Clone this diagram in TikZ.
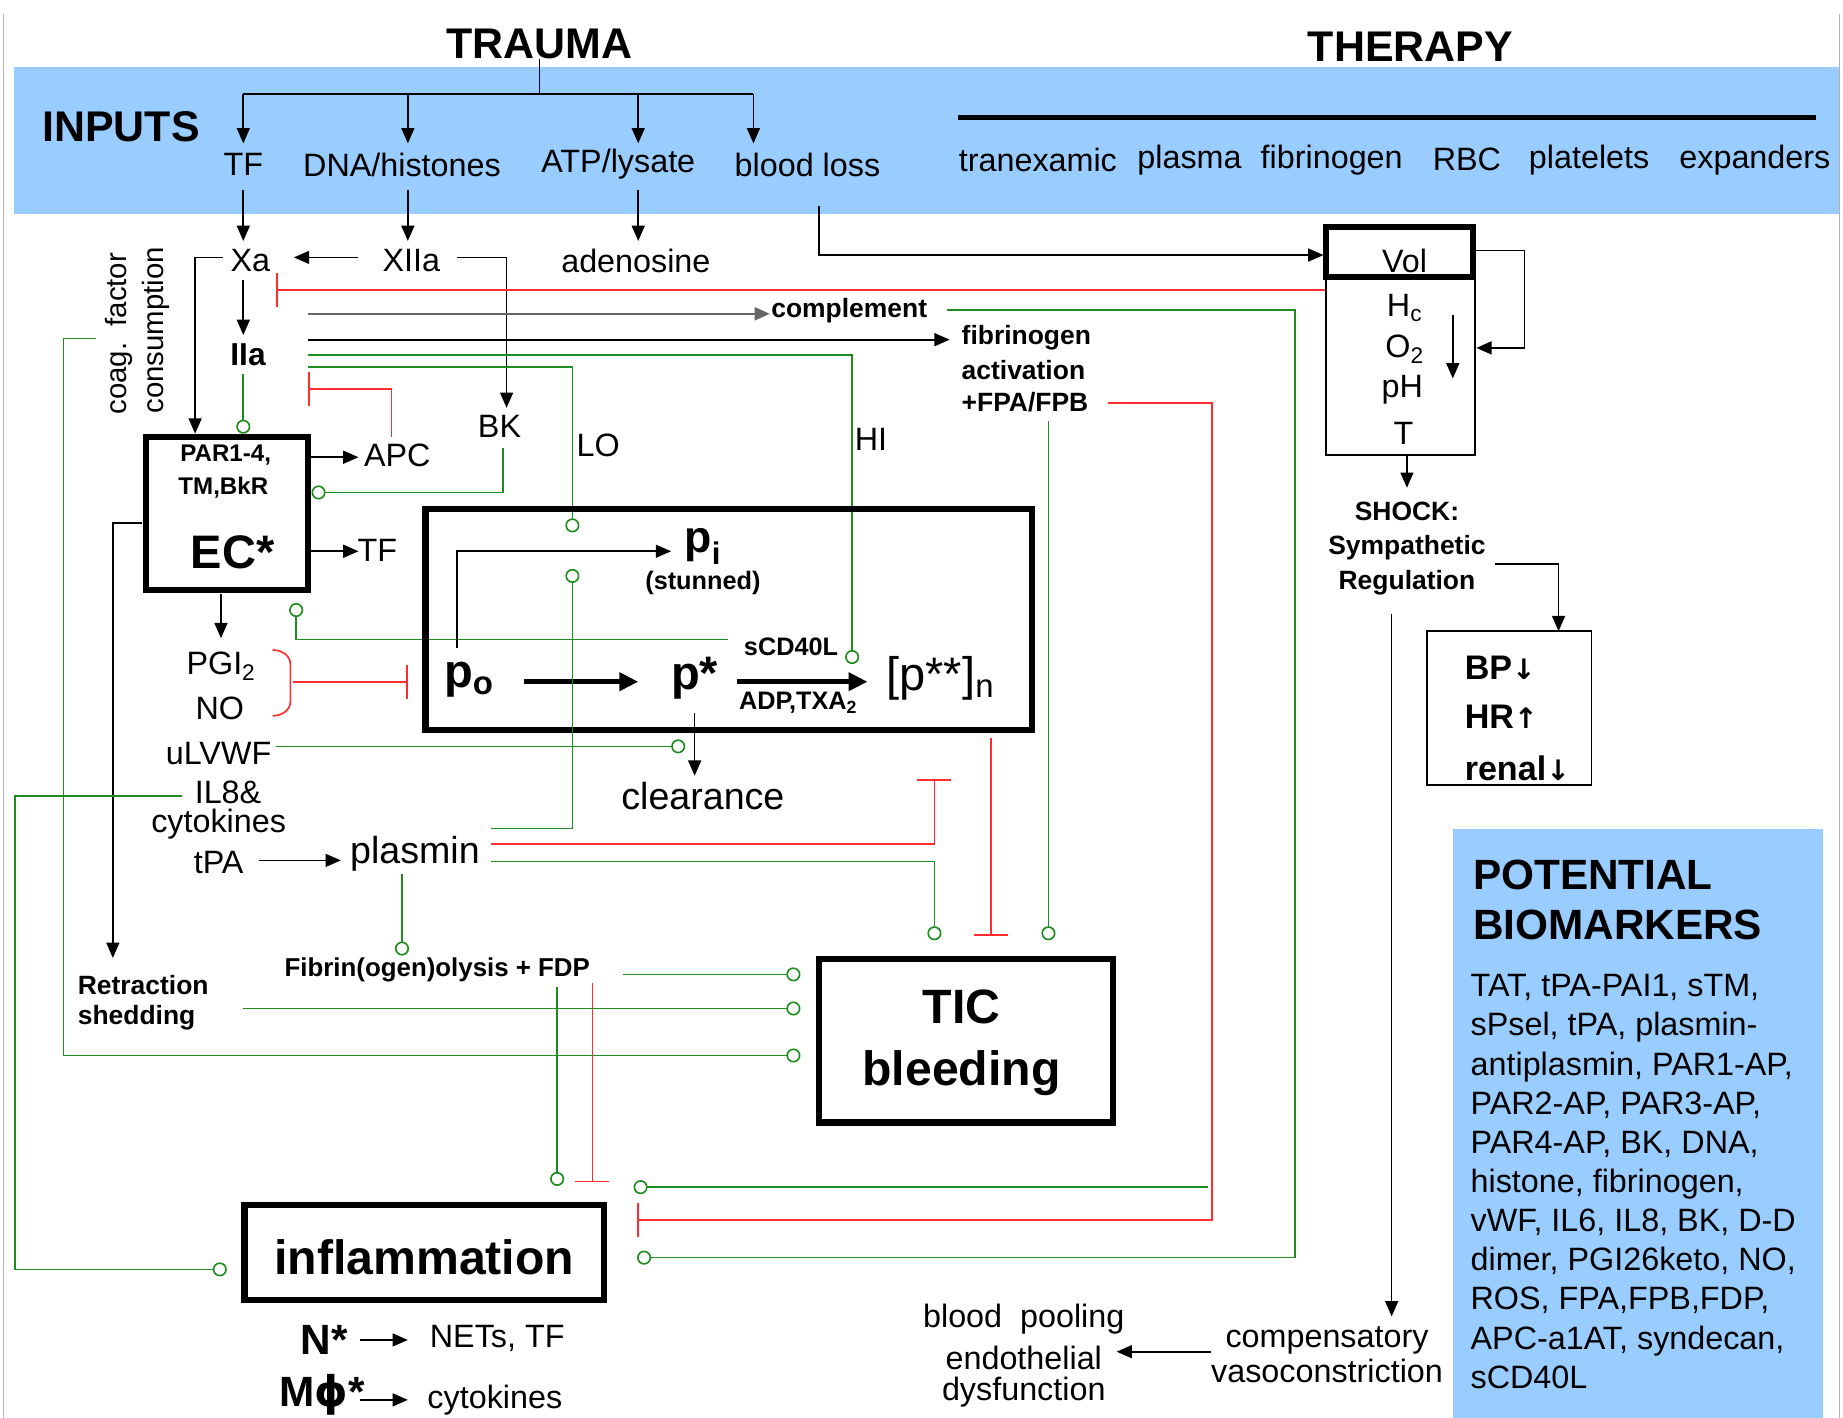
\documentclass[tikz,border=0pt]{standalone}
\usepackage{fontspec}
\setmainfont{Liberation Sans}
\newfontfamily\djv{DejaVu Sans}
\usetikzlibrary{arrows.meta}
\definecolor{bandblue}{RGB}{153,204,255}
\definecolor{gcol}{RGB}{30,140,30}
\definecolor{rcol}{RGB}{255,45,45}
\newcommand\fsz[1]{\fontsize{#1}{#1}\selectfont}
\begin{document}
\begin{tikzpicture}[x=1pt,y=-1pt,
 lbl/.style={inner sep=0pt, font=\fsz{27.5}},
 blbl/.style={inner sep=0pt, font=\fsz{22.5}\bfseries},
 big/.style={inner sep=0pt, font=\fsz{36.5}\bfseries},
 ar/.style={draw=black, line width=1.4pt, -{Triangle[length=13pt,width=11pt]}},
 ln/.style={draw=black, line width=1.4pt},
 gl/.style={draw=gcol, line width=1.4pt},
 gc/.style={draw=gcol, line width=1.4pt, -{Circle[open,length=12pt,width=12pt]}},
 rl/.style={draw=rcol, line width=1.4pt},
 rt/.style={draw=rcol, line width=1.4pt, -{Bar[width=29pt]}},
 tb/.style={draw=black, line width=5.5pt},
 thinbox/.style={draw=black, line width=1.3pt}]
\useasboundingbox (0,0) rectangle (1568,1206);
\fill[white] (0,0) rectangle (1568,1206);
\fill[bandblue] (12,57) rectangle (1565,182);
\fill[bandblue] (1236,705) rectangle (1551,1206);
\draw[black!30, line width=1.2pt] (3,12) -- (3,1206);
\draw[black!30, line width=1.2pt] (1565,12) -- (1565,1206);

% titles
\node[big] (trauma) at (459,37) {TRAUMA};
\node[big] (therapy) at (1200,40) {THERAPY};
\node[big] (inputs) at (103,108) {INPUTS};

% trauma tree
\coordinate (tj) at (459,80);
\draw[ln] (trauma.south) -- (tj);
\draw[ln] (207,80) -- (641,80);
\foreach \x in {207,347,543,641} \draw[ar] (\x,80) -- (\x,122);
\node[lbl] (inTF) at (207,140) {TF};
\node[lbl] (inDNA) at (342,140) {DNA/histones};
\node[lbl] (inATP) at (526,140) {ATP/lysate};
\node[lbl] (inBL) at (687,140) {blood loss};

% therapy
\draw[line width=5pt] (815,100) -- (1545,100);
\node[lbl] (tx) at (883,136) {tranexamic};
\node[lbl] (pl) at (1012,136) {plasma};
\node[lbl] (fb) at (1133,136) {fibrinogen};
\node[lbl] (rbc) at (1248,136) {RBC};
\node[lbl] (plt) at (1352,136) {platelets};
\node[lbl] (exp) at (1493,136) {expanders};

% coagulation
\node[lbl] (Xa) at (213,222) {Xa};
\node[lbl] (XIIa) at (350,222) {XIIa};
\node[lbl] (aden) at (541,222) {adenosine};
\draw[ar] (207,162) -- (207,205);
\draw[ar] (347,162) -- (347,205);
\draw[ar] (543,162) -- (543,205);
\draw[ar] (305,219) -- (250,219);
\draw[ar] (389,219) -- (431,219) -- (431,347);
\node[lbl] (BK) at (425,363) {BK};
\draw[ar] (190,219) -- (166,219) -- (166,369);
\draw[ar] (207,238) -- (207,285);
\node[inner sep=0pt, font=\fsz{27}\bfseries] (IIa) at (211,302) {IIa};
\draw[gc] (207,318) -- (207,369);

\node[rotate=90, inner sep=0pt, font=\fsz{25}] (coag) at (101,284) {coag.\ \ factor};
\node[rotate=90, inner sep=0pt, font=\fsz{25}] (cons) at (133,281) {consumption};

% red Vol -| Xa
\draw[rt] (1128,247) -- (235,247);
% complement
\draw[draw=black!60, line width=2pt, -{Triangle[length=13pt,width=11pt]}] (262,267) -- (655,267);
\node[blbl, anchor=west] (compl) at (656,264) {complement};
\draw[gc] (806,264) -- (1102,264) -- (1102,1070) -- (542,1070);
% fibrinogen activation
\draw[ar] (262,289) -- (808,289);
\node[blbl, anchor=west] (fa1) at (818,287) {fibrinogen};
\node[blbl, anchor=west] (fa2) at (818,315) {activation};
\node[blbl, anchor=west] (fa3) at (818,342) {+FPA/FPB};
\draw[gc] (892,358) -- (892,800);
\draw[rt] (943,343) -- (1031,343) -- (1031,1038) -- (542,1038);

% IIa green lines
\draw[gc] (262,302) -- (725,302) -- (725,565);
\node[lbl] (HI) at (741,374) {HI};
\draw[gc] (262,312) -- (487,312) -- (487,453);
\node[lbl] (LO) at (509,379) {LO};
% APC inhibits IIa
\draw[rt] (333,372) -- (333,331) -- (262,331);

% EC box
\draw[tb] (124,372) rectangle (262,502);
\node[inner sep=0pt, font=\fsz{20.5}\bfseries] (par) at (192,387) {PAR1-4,};
\node[inner sep=0pt, font=\fsz{20.5}\bfseries] (tm) at (190,415) {TM,BkR};
\node[inner sep=0pt, font=\fsz{40}\bfseries] (EC) at (198,470) {EC*};
\draw[ar] (265,389) -- (305,389);
\node[lbl] (APC) at (338,387) {APC};
\draw[ar] (265,469) -- (305,469);
\node[lbl] (TF2) at (321,468) {TF};
\draw[gc] (428,381) -- (428,419) -- (265,419);
\draw[ar] (188,505) -- (188,543);
\draw[ar] (121,445) -- (96,445) -- (96,815);
\draw[gc] (619,544) -- (252,544) -- (252,513);

% coag factor consumption -> TIC
\draw[gc] (82,288) -- (54,288) -- (54,898) -- (681,898);

% platelet box
\draw[tb] (362,433) rectangle (878,621);
\node[inner sep=0pt, font=\fsz{40}\bfseries] (po) at (399,578) {p\textsubscript{o}};
\node[inner sep=0pt, font=\fsz{40}\bfseries] (ps) at (591,577) {p*};
\node[inner sep=0pt, font=\fsz{40}] (pss) at (800,577) {[p**]\textsubscript{n}};
\node[inner sep=0pt, font=\fsz{38}\bfseries] (pi) at (598,465) {p\textsubscript{i}};
\node[inner sep=0pt, font=\fsz{21.5}\bfseries] (stun) at (598,496) {(stunned)};
\node[inner sep=0pt, font=\fsz{21.5}\bfseries] (scd) at (673,550) {sCD40L};
\node[inner sep=0pt, font=\fsz{21.5}\bfseries] (adp) at (679,598) {ADP,TXA\textsubscript{2}};
\draw[line width=4pt, -{Triangle[length=16pt,width=15pt]}] (446,580) -- (543,580);
\draw[line width=4pt, -{Triangle[length=16pt,width=15pt]}] (627,580) -- (738,580);
\draw[draw=black, line width=1.3pt, -{Triangle[length=13pt,width=11pt]}] (389,551) -- (389,469) -- (571,469);
\draw[ar] (591,607) -- (591,660);
\node[inner sep=0pt, font=\fsz{32}] (clear) at (598,677) {clearance};

% left column
\node[lbl] (PGI) at (188,567) {PGI\textsubscript{2}};
\node[lbl] (NO) at (187,603) {NO};
\draw[rl] (232,553) to[out=0,in=90] (247,565) -- (247,597) to[out=-90,in=0] (232,609);
\draw[rt] (249,580) -- (347,580);
\node[lbl] (ulvwf) at (186,641) {uLVWF};
\draw[gc] (235,635) -- (583,635);
\node[lbl] (il8) at (194,674) {IL8\&};
\node[lbl] (cyto) at (186,701) {cytokines};
\draw[gc] (155,677) -- (13,677) -- (13,1080) -- (193,1080);
\node[lbl] (tPA) at (186,734) {tPA};
\draw[ar] (220,732) -- (290,732);
\node[inner sep=0pt, font=\fsz{32}] (plasmin) at (353,726) {plasmin};
\draw[gc] (418,705) -- (487,705) -- (487,484);
\draw[rt] (418,718) -- (795,718) -- (795,663);
\draw[gc] (418,733) -- (795,733) -- (795,800);
\draw[gc] (342,744) -- (342,813);
\node[inner sep=0pt, font=\fsz{22}\bfseries] (fdp) at (372,825) {Fibrin(ogen)olysis + FDP};
\draw[gc] (530,829) -- (681,829);
\draw[gc] (474,840) -- (474,1009);
\draw[rt] (504,836) -- (504,1006);
\node[blbl, anchor=west] (retr) at (66,838) {Retraction};
\node[blbl, anchor=west] (shed) at (66,866) {shedding};
\draw[gc] (207,858) -- (681,858);

% platelet box inhibits TIC
\draw[rt] (843,628) -- (843,796);

% TIC box
\draw[tb] (697,816) rectangle (947,955);
\node[inner sep=0pt, font=\fsz{41}\bfseries] (TIC) at (818,857) {TIC};
\node[inner sep=0pt, font=\fsz{41}\bfseries] (bleed) at (818,913) {bleeding};

% inflammation
\draw[tb] (208,1025) rectangle (514,1106);
\node[inner sep=0pt, font=\fsz{41}\bfseries] (infl) at (361,1070) {inflammation};
\draw[gc] (1028,1010) -- (539,1010);
\node[inner sep=0pt, font=\fsz{36}\bfseries] (N) at (276,1140) {N*};
\draw[ar] (306,1140) -- (347,1140);
\node[lbl] (nets) at (423,1139) {NETs, TF};
\node[inner sep=0pt, font=\fsz{36}\bfseries] (M) at (274,1187) {M{\djv ϕ}*};
\draw[ar] (306,1191) -- (347,1191);
\node[lbl] (cyto2) at (421,1191) {cytokines};

% right side: volume
\draw[ar] (697,175) -- (697,217) -- (1126,217);
\draw[thinbox] (1128,236) rectangle (1255,387);
\draw[draw=black, line width=5pt, fill=white] (1128.5,193.5) rectangle (1253.5,235.5);
\node[lbl] (vol) at (1195,222) {Vol};
\node[lbl] (hc) at (1195,262) {H\textsubscript{c}};
\node[lbl] (o2) at (1195,297) {O\textsubscript{2}};
\node[lbl] (ph) at (1193,332) {pH};
\node[lbl] (T) at (1194,369) {T};
\draw[ar] (1236,268) -- (1236,322);
\draw[ar] (1256,213) -- (1297,213) -- (1297,296) -- (1256,296);
\draw[ar] (1197,387) -- (1197,415);
\node[blbl] (shock) at (1197,435) {SHOCK:};
\node[blbl] (symp) at (1197,466) {Sympathetic};
\node[blbl] (reg) at (1197,496) {Regulation};
\draw[ar] (1272,480) -- (1326,480) -- (1326,537);
\draw[thinbox] (1214,537) rectangle (1354,668);
\node[inner sep=0pt, font=\fsz{29}\bfseries, anchor=west] (bp) at (1246,568) {BP{\djv\fsz{24}↓}};
\node[inner sep=0pt, font=\fsz{29}\bfseries, anchor=west] (hr) at (1246,610) {HR{\djv\fsz{24}↑}};
\node[inner sep=0pt, font=\fsz{29}\bfseries, anchor=west] (renal) at (1246,654) {renal{\djv\fsz{24}↓}};
\draw[ar] (1184,522) -- (1184,1120);
\node[lbl] (comp) at (1129,1140) {compensatory};
\node[lbl] (vaso) at (1129,1166) {vasoconstriction};
\draw[ar] (1030,1150) -- (950,1150);
\node[lbl] (bpool) at (871,1122) {blood\ \ pooling};
\node[lbl] (endo) at (871,1155) {endothelial};
\node[lbl] (dysf) at (871,1184) {dysfunction};

% biomarkers
\node[big, font=\fsz{36}\bfseries, anchor=west] (pot) at (1253,744) {POTENTIAL};
\node[big, font=\fsz{36}\bfseries, anchor=west] (bio) at (1253,787) {BIOMARKERS};
\foreach \t [count=\i from 0] in {{TAT, tPA-PAI1, sTM,},{sPsel, tPA, plasmin-},{antiplasmin, PAR1-AP,},{PAR2-AP, PAR3-AP,},{PAR4-AP, BK, DNA,},{histone, fibrinogen,},{vWF, IL6, IL8, BK, D-D},{dimer, PGI26keto, NO,},{ROS, FPA,FPB,FDP,},{APC-a1AT, syndecan,},{sCD40L}}
  \node[lbl, anchor=base west] (bm\i) at (1251,{848+33.3*\i}) {\t};
\end{tikzpicture}
\end{document}
